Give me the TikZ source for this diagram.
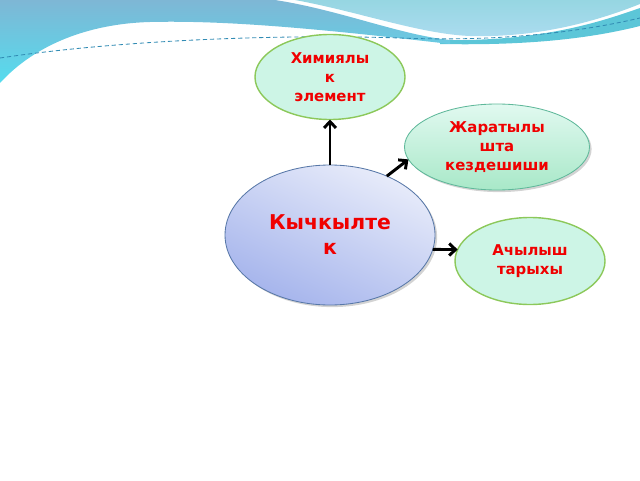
\documentclass[tikz,border=0pt]{standalone}
\usepackage{fontspec}
\setmainfont{DejaVu Sans}
\usepackage{xcolor}
\usetikzlibrary{shapes.geometric,shadows,arrows.meta}

\definecolor{wavetop}{RGB}{126,183,213}
\definecolor{wavelow}{RGB}{85,220,238}
\definecolor{wavelight}{RGB}{150,214,226}
\definecolor{wavelightb}{RGB}{172,220,240}
\definecolor{waveteal}{RGB}{92,198,216}
\definecolor{wavedash}{RGB}{50,140,180}
\definecolor{mint}{RGB}{205,245,230}
\definecolor{leaf}{RGB}{140,200,90}
\definecolor{mintdark}{RGB}{168,232,200}
\definecolor{mintline}{RGB}{95,184,154}
\definecolor{lavtop}{RGB}{232,236,250}
\definecolor{lavlow}{RGB}{165,180,236}
\definecolor{lavline}{RGB}{88,120,168}
\definecolor{txtred}{RGB}{240,0,0}

\begin{document}
\begin{tikzpicture}[
    bubble/.style={ellipse, inner sep=0pt, outer sep=0pt, align=center,
        text=txtred, font=\bfseries\fontsize{10.6}{13.5}\selectfont},
    greenbubble/.style={bubble, draw=leaf, line width=1pt, fill=mint},
    shadebubble/.style={bubble, draw=mintline, line width=0.6pt,
        top color=mint!60!white, bottom color=mintdark,
        drop shadow={opacity=0.35, shadow xshift=1.5pt, shadow yshift=-1.5pt}},
    mainbubble/.style={bubble, draw=lavline, line width=0.6pt,
        top color=lavtop, bottom color=lavlow, shading angle=-25,
        font=\bfseries\fontsize{14.5}{17.7}\selectfont,
        drop shadow={opacity=0.35, shadow xshift=1.5pt, shadow yshift=-1.5pt}},
    link/.style={line width=2.1pt, -{Straight Barb[length=4.5pt,width=8.5pt]}}
]
\useasboundingbox (0,0) rectangle (16,12);

% Top wave: teal band on the right
\fill[waveteal]
    (11,11.0) .. controls (13.5,10.95) and (15,11.45) .. (16,11.8)
    -- (16,11.35) .. controls (15,11.1) and (13.5,10.85) .. (11,10.9)
    -- cycle;

% Top wave: blue band from the left
\shade[top color=wavetop, bottom color=wavelow]
    (0,12) -- (6.875,12)
    .. controls (8.5,11.75) and (10,11.125) .. (11.25,11.0)
    -- (11.25,10.9) .. controls (8.25,11.25) and (5.75,11.5) .. (3.75,11.45)
    .. controls (2,11.4) and (0.75,10.75) .. (0,9.925)
    -- cycle;

% Top wave: light band on the right
\shade[top color=wavelight, bottom color=wavelightb]
    (7.375,12) .. controls (9,11.7) and (10.5,11.15) .. (11.75,11.1)
    .. controls (13.5,11.05) and (15,11.5) .. (16,11.9)
    -- (16,12) -- cycle;

% Dashed line along the wave
\draw[wavedash, line width=0.6pt, dash pattern=on 3pt off 2pt]
    (0,10.55) .. controls (3,11.0) and (7,11.15) .. (10,11.05)
    .. controls (12.5,10.95) and (14.5,11.2) .. (16,11.55);

% Bubbles
\node[greenbubble, minimum width=3.75cm, minimum height=2.125cm] (chem) at (8.25,10.075)
    {Химиялы\\к\\элемент};
\node[shadebubble, minimum width=4.625cm, minimum height=2.15cm] (nat) at (12.425,8.325)
    {Жаратылы\\шта\\кездешиши};
\node[mainbubble, minimum width=5.25cm, minimum height=3.5cm] (oxy) at (8.25,6.125)
    {Кычкылте\\к};
\node[greenbubble, minimum width=3.75cm, minimum height=2.175cm] (hist) at (13.25,5.475)
    {Ачылыш\\тарыхы};

% Arrows
\draw[link] (oxy.north) -- (chem.south);
\draw[link] (oxy.46) -- (nat.188);
\draw[link] (oxy.-8) -- (hist.171);
\end{tikzpicture}
\end{document}
